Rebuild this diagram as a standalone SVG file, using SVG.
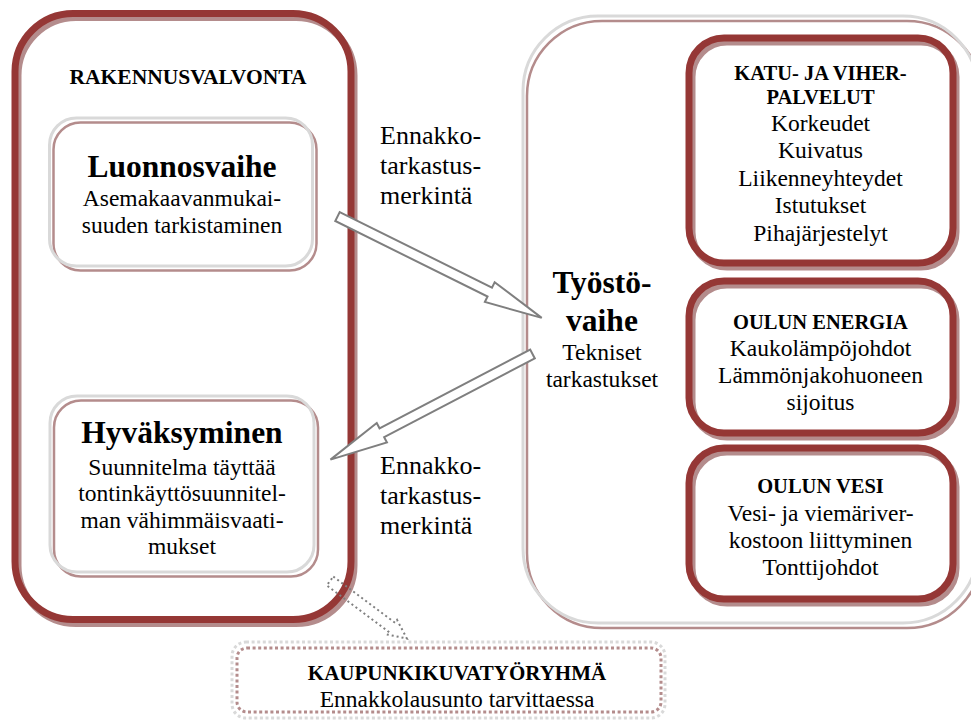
<svg xmlns="http://www.w3.org/2000/svg" width="971" height="723" viewBox="0 0 971 723" font-family="Liberation Serif, serif">
<style>
text{font-family:"Liberation Serif","Times New Roman",serif;fill:#000;text-anchor:middle}
.h1{font-size:31.5px;font-weight:bold}
.h2{font-size:20.5px;font-weight:bold}
.t{font-size:23.5px}
.lab{font-size:26px;text-anchor:start}
.sh{fill:none;stroke:#b48c8c}
.red{fill:none;stroke:#953735;stroke-width:7}
.redsh{stroke-width:7}
.gray{fill:none;stroke:#d9d9d9;stroke-width:3}
.graysh{stroke-width:2.5}
.blk{fill:#fff;stroke:#7f7f7f;stroke-width:2;stroke-linejoin:miter}
.dot{fill:none;stroke:#7f7f7f;stroke-width:2;stroke-dasharray:2 3}
.dbox{fill:none;stroke-width:3;stroke-dasharray:3 2.6}
</style>
<rect width="971" height="723" fill="#fff"/>

<g id="rakennusvalvonta">
<rect class="sh redsh" x="18" y="17.5" width="336" height="606" rx="58"/>
<rect class="red" x="15" y="13.5" width="336" height="606" rx="58"/>
<text class="h2" x="188" y="84" style="font-size:21.5px">RAKENNUSVALVONTA</text>
</g>

<g id="luonnosvaihe">
<rect class="sh graysh" x="53.5" y="122.5" width="263" height="148" rx="27"/>
<rect class="gray" x="49.5" y="118" width="263" height="148" rx="27"/>
<text class="h1" x="182" y="177">Luonnosvaihe</text>
<text class="t" x="182" y="206">Asemakaavanmukai-</text>
<text class="t" x="182" y="233">suuden tarkistaminen</text>
</g>

<g id="hyvaksyminen">
<rect class="sh graysh" x="54" y="400.5" width="264" height="176" rx="27"/>
<rect class="gray" x="50" y="396" width="264" height="176" rx="27"/>
<text class="h1" x="182" y="443">Hyväksyminen</text>
<text class="t" x="182" y="475">Suunnitelma täyttää</text>
<text class="t" x="182" y="501">tontinkäyttösuunnitel-</text>
<text class="t" x="182" y="528">man vähimmäisvaati-</text>
<text class="t" x="182" y="554">mukset</text>
</g>

<g id="tyostovaihe">
<rect class="sh graysh" x="527" y="21" width="455" height="607" rx="75"/>
<rect class="gray" x="523" y="16" width="455" height="607" rx="75"/>
<text class="h1" x="602" y="293">Työstö-</text>
<text class="h1" x="602" y="331">vaihe</text>
<text class="t" x="602" y="360">Tekniset</text>
<text class="t" x="602" y="387">tarkastukset</text>
</g>

<g id="katu-ja-viherpalvelut">
<rect class="sh redsh" x="692" y="42" width="264" height="225" rx="35"/>
<rect class="red" x="689" y="38" width="264" height="225" rx="35"/>
<text class="h2" x="820.5" y="80">KATU- JA VIHER-</text>
<text class="h2" x="820.5" y="104">PALVELUT</text>
<text class="t" x="820.5" y="131">Korkeudet</text>
<text class="t" x="820.5" y="158">Kuivatus</text>
<text class="t" x="820.5" y="186">Liikenneyhteydet</text>
<text class="t" x="820.5" y="213">Istutukset</text>
<text class="t" x="820.5" y="241">Pihajärjestelyt</text>
</g>

<g id="oulun-energia">
<rect class="sh redsh" x="692" y="285" width="264" height="152" rx="35"/>
<rect class="red" x="689" y="281" width="264" height="152" rx="35"/>
<text class="h2" x="820.5" y="329">OULUN ENERGIA</text>
<text class="t" x="820.5" y="356">Kaukolämpöjohdot</text>
<text class="t" x="820.5" y="383">Lämmönjakohuoneen</text>
<text class="t" x="820.5" y="410">sijoitus</text>
</g>

<g id="oulun-vesi">
<rect class="sh redsh" x="692" y="452" width="264" height="151" rx="35"/>
<rect class="red" x="689" y="448" width="264" height="151" rx="35"/>
<text class="h2" x="820.5" y="493">OULUN VESI</text>
<text class="t" x="820.5" y="521">Vesi- ja viemäriver-</text>
<text class="t" x="820.5" y="548">kostoon liittyminen</text>
<text class="t" x="820.5" y="575">Tonttijohdot</text>
</g>

<g id="kaupunkikuvatyoryhma">
<rect class="dbox" stroke="#d9d9d9" x="232" y="642" width="433" height="76" rx="14"/>
<rect class="dbox" stroke="#b48c8c" x="237" y="648" width="424" height="64" rx="10"/>
<text class="h2" x="457" y="680" style="font-size:21px">KAUPUNKIKUVATYÖRYHMÄ</text>
<text class="t" x="457" y="707">Ennakkolausunto tarvittaessa</text>
</g>

<g id="connectors">
<polygon class="blk" transform="translate(337.5,216.5) rotate(26.4)" points="0,-5 170,-5 170,-11 228,0 170,11 170,5 0,5"/>
<polygon class="blk" transform="translate(532.5,354) rotate(152.4)" points="0,-5 170,-5 170,-11 228,0 170,11 170,5 0,5"/>
<polygon class="dot" transform="translate(330,581) rotate(36.8)" points="0,-5.5 77,-5.5 77,-9 96,0 77,9 77,5.5 0,5.5"/>
<text class="lab" x="380" y="144">Ennakko-</text>
<text class="lab" x="380" y="174">tarkastus-</text>
<text class="lab" x="380" y="204">merkintä</text>
<text class="lab" x="380" y="474">Ennakko-</text>
<text class="lab" x="380" y="504">tarkastus-</text>
<text class="lab" x="380" y="534">merkintä</text>
</g>
</svg>
